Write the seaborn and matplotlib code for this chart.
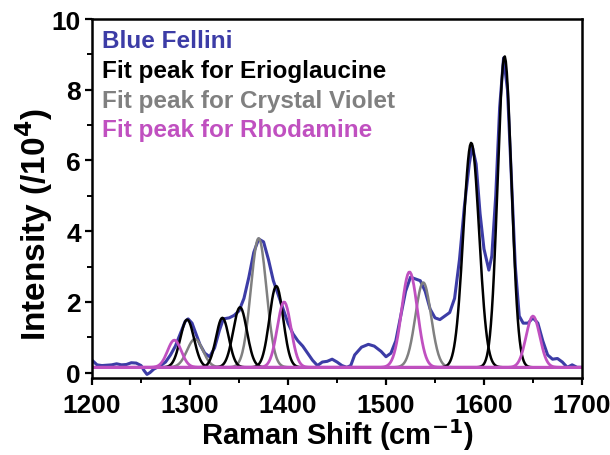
import numpy as np
import pandas as pd
import matplotlib
matplotlib.use("Agg")
import matplotlib.pyplot as plt
import seaborn as sns
from matplotlib.ticker import MultipleLocator

# ---- data ----
shift = [1200, 1205, 1210, 1215, 1220, 1225, 1230, 1235, 1240, 1245, 1250, 1253, 1256, 1259,
         1263, 1270, 1275, 1280, 1285, 1290, 1295, 1298, 1302, 1306, 1310, 1315, 1320, 1325,
         1330, 1334, 1340, 1345, 1350, 1355, 1360, 1365, 1370, 1375, 1380, 1385, 1390, 1395,
         1400, 1405, 1410, 1415, 1420, 1425, 1430, 1435, 1440, 1445, 1450, 1455, 1460, 1464,
         1468, 1475, 1482, 1488, 1495, 1500, 1505, 1510, 1515, 1520, 1525, 1530, 1535, 1540,
         1545, 1550, 1555, 1560, 1565, 1570, 1575, 1580, 1585, 1588, 1592, 1596, 1600, 1605,
         1608, 1612, 1616, 1620, 1624, 1628, 1632, 1636, 1640, 1645, 1650, 1655, 1660, 1665,
         1670, 1675, 1680, 1685, 1690, 1695, 1700]
intensity = [0.35, 0.22, 0.2, 0.21, 0.22, 0.25, 0.22, 0.23, 0.28, 0.27, 0.2, 0.06, -0.05, 0.0,
             0.1, 0.2, 0.3, 0.5, 0.75, 1.1, 1.45, 1.52, 1.4, 1.1, 0.8, 0.55, 0.45, 0.7,
             1.2, 1.52, 1.55, 1.62, 1.75, 2.1, 2.7, 3.4, 3.78, 3.7, 3.2, 2.6, 2.2, 1.8,
             1.4, 1.1, 0.9, 0.75, 0.55, 0.35, 0.2, 0.3, 0.32, 0.38, 0.3, 0.2, 0.15, 0.2,
             0.5, 0.72, 0.8, 0.75, 0.6, 0.45, 0.55, 0.9, 1.6, 2.3, 2.7, 2.65, 2.6, 2.3,
             1.8, 1.55, 1.5, 1.6, 1.7, 2.1, 3.2, 4.7, 5.9, 6.4, 5.9, 4.5, 3.5, 2.9,
             3.3, 5.0, 7.5, 8.9, 8.0, 5.5, 3.0, 1.6, 1.4, 1.4, 1.55, 1.4, 0.9, 0.5,
             0.38, 0.4, 0.3, 0.15, 0.22, 0.15, 0.15]

baseline = 0.15
# fitted peaks: centre (cm-1), peak top value, width (sigma, cm-1)
erio_center = [1297, 1333, 1351, 1388, 1587, 1621]
erio_top = [1.5, 1.55, 1.85, 2.45, 6.5, 8.95]
erio_sigma = [7, 6.5, 7, 7, 8, 7]

cv_center = [1305, 1370, 1538]
cv_top = [0.95, 3.8, 2.55]
cv_sigma = [8, 8, 8]

rh_center = [1284, 1396, 1524, 1650]
rh_top = [0.92, 2.0, 2.85, 1.6]
rh_sigma = [7, 7, 8, 7]

legend_labels = ["Blue Fellini", "Fit peak for Erioglaucine",
                 "Fit peak for Crystal Violet", "Fit peak for Rhodamine"]

c_blue = "#3c3ca6"
c_black = "#000000"
c_gray = "#808080"
c_pink = "#c050c0"

sns.set_theme(style="ticks")
plt.rcParams['font.family'] = ['Liberation Sans', 'DejaVu Sans']
plt.rcParams['font.weight'] = 'bold'
plt.rcParams['text.color'] = 'black'
plt.rcParams['axes.labelcolor'] = 'black'
plt.rcParams['xtick.color'] = 'black'
plt.rcParams['ytick.color'] = 'black'

fig = plt.figure(figsize=(6.1, 4.56), dpi=100)
ax = fig.add_axes([0.151, 0.169, 0.803, 0.787])

sns.lineplot(x=shift, y=intensity, ax=ax, color=c_blue, linewidth=2.2, estimator=None)


def gauss_curve(lo, hi, c, top, s):
    xs = np.linspace(lo, hi, 400)
    ys = baseline + (top - baseline) * np.exp(-0.5 * ((xs - c) / s) ** 2)
    return xs, ys


for c, t, s in zip(cv_center, cv_top, cv_sigma):
    xs, ys = gauss_curve(1270, 1570, c, t, s)
    sns.lineplot(x=xs, y=ys, ax=ax, color=c_gray, linewidth=1.8, estimator=None)
for c, t, s in zip(erio_center, erio_top, erio_sigma):
    xs, ys = gauss_curve(1265, 1670, c, t, s)
    sns.lineplot(x=xs, y=ys, ax=ax, color=c_black, linewidth=1.8, estimator=None)
for c, t, s in zip(rh_center, rh_top, rh_sigma):
    xs, ys = gauss_curve(1200, 1700, c, t, s)
    sns.lineplot(x=xs, y=ys, ax=ax, color=c_pink, linewidth=2.0, estimator=None)

ax.set_xlim(1200, 1700)
ax.set_ylim(-0.15, 10)
ax.xaxis.set_major_locator(MultipleLocator(100))
ax.xaxis.set_minor_locator(MultipleLocator(50))
ax.yaxis.set_major_locator(MultipleLocator(2))
ax.yaxis.set_minor_locator(MultipleLocator(1))
ax.tick_params(which='major', direction='out', length=5, width=1.6, labelsize=19, pad=3,
               colors='black')
ax.tick_params(axis='x', which='major', pad=6)
ax.tick_params(which='minor', direction='out', length=3.5, width=1.4, colors='black')
for lab in ax.get_xticklabels() + ax.get_yticklabels():
    lab.set_fontweight('bold')
for sp in ax.spines.values():
    sp.set_linewidth(1.8)
    sp.set_color('black')

ax.set_xlabel("Raman Shift (cm$^{\\mathbf{-1}}$)", fontsize=21, fontweight='bold', color='black')
ax.set_ylabel("Intensity (/10$^{\\mathbf{4}}$)", fontsize=24, fontweight='bold', color='black')
ax.xaxis.set_label_coords(0.5, -0.105)
ax.yaxis.set_label_coords(-0.075, 0.43)

for i, (lab, col) in enumerate(zip(legend_labels, [c_blue, c_black, c_gray, c_pink])):
    ax.text(0.02, 0.94 - i * 0.083, lab, transform=ax.transAxes, color=col,
            fontsize=17.5, fontweight='bold', va='center', ha='left')

fig.savefig("out.png", dpi=100)
